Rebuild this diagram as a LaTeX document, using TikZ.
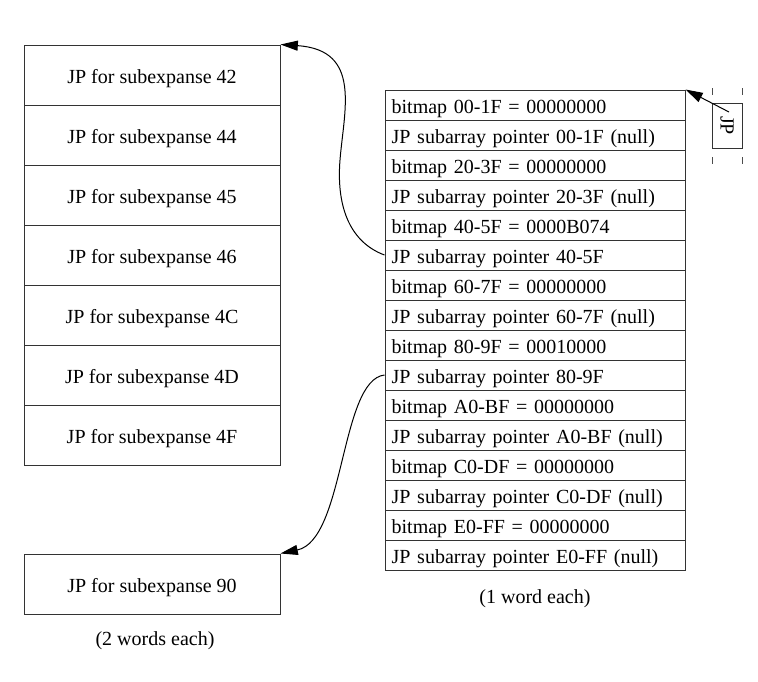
\documentclass[tikz,border=0pt]{standalone}
\usepackage{fontspec}
\setmainfont{Liberation Serif}
\usetikzlibrary{arrows.meta}
\begin{document}
\begin{tikzpicture}[x=0.75pt,y=-0.75pt,
  every node/.style={font=\fontsize{15}{18}\selectfont},
  lbox/.style={draw=black!80,line width=0.75pt,minimum width=192pt,minimum height=45pt,inner sep=0pt,text height=12pt,text depth=0pt,anchor=center},
  rrow/.style={draw=black!80,line width=0.75pt,minimum width=225pt,minimum height=22.5pt,inner sep=0pt,text height=12pt,text depth=0pt,text width=215pt,align=left,anchor=center},
  caption/.style={inner sep=0pt,text height=12pt,text depth=0pt},
  conn/.style={line width=0.75pt,-{Triangle[length=13pt,width=7.5pt]}}]
\useasboundingbox (0,0) rectangle (758,682);
% left stack
\node[lbox] (l0) at (152,75) {JP for subexpanse 42};
\node[lbox] (l1) at (152,135) {JP for subexpanse 44};
\node[lbox] (l2) at (152,195) {JP for subexpanse 45};
\node[lbox] (l3) at (152,255) {JP for subexpanse 46};
\node[lbox] (l4) at (152,315) {JP for subexpanse 4C};
\node[lbox] (l5) at (152,375) {JP for subexpanse 4D};
\node[lbox] (l6) at (152,435) {JP for subexpanse 4F};
\node[lbox] (l7) at (152,584) {JP for subexpanse 90};
\node[caption] (lcap) at (155,637) {(2 words each)};
% right stack
\node[rrow] (r0) at (535,105) {bitmap 00-1F = 00000000};
\node[rrow] (r1) at (535,135) {JP subarray pointer 00-1F (null)};
\node[rrow] (r2) at (535,165) {bitmap 20-3F = 00000000};
\node[rrow] (r3) at (535,195) {JP subarray pointer 20-3F (null)};
\node[rrow] (r4) at (535,225) {bitmap 40-5F = 0000B074};
\node[rrow] (r5) at (535,255) {JP subarray pointer 40-5F};
\node[rrow] (r6) at (535,285) {bitmap 60-7F = 00000000};
\node[rrow] (r7) at (535,315) {JP subarray pointer 60-7F (null)};
\node[rrow] (r8) at (535,345) {bitmap 80-9F = 00010000};
\node[rrow] (r9) at (535,375) {JP subarray pointer 80-9F};
\node[rrow] (r10) at (535,405) {bitmap A0-BF = 00000000};
\node[rrow] (r11) at (535,435) {JP subarray pointer A0-BF (null)};
\node[rrow] (r12) at (535,465) {bitmap C0-DF = 00000000};
\node[rrow] (r13) at (535,495) {JP subarray pointer C0-DF (null)};
\node[rrow] (r14) at (535,525) {bitmap E0-FF = 00000000};
\node[rrow] (r15) at (535,555) {JP subarray pointer E0-FF (null)};
\node[caption] (rcap) at (535,595) {(1 word each)};
% JP node
\node[draw=black!80,line width=0.75pt,minimum width=22.5pt,minimum height=33.75pt,inner sep=0pt] (jp) at (727,125.5) {};
\node[rotate=-90] (jpt) at (jp.center) {JP};
\draw[black!70,line width=0.75pt] (712,88) -- (712,95) (742,88) -- (742,95)
  (712,157) -- (712,164) (742,157) -- (742,164);
\coordinate (jps) at (729,112);
% connectors
\draw[conn] (jps) -- (r0.north east);
\draw[conn] (r5.west) .. controls (352,243) and (336,210) .. (340,160)
  .. controls (344,110) and (362,50) .. (l0.north east);
\draw[conn] (r9.west) .. controls (340,380) and (345,540) .. (l7.north east);
\end{tikzpicture}
\end{document}
